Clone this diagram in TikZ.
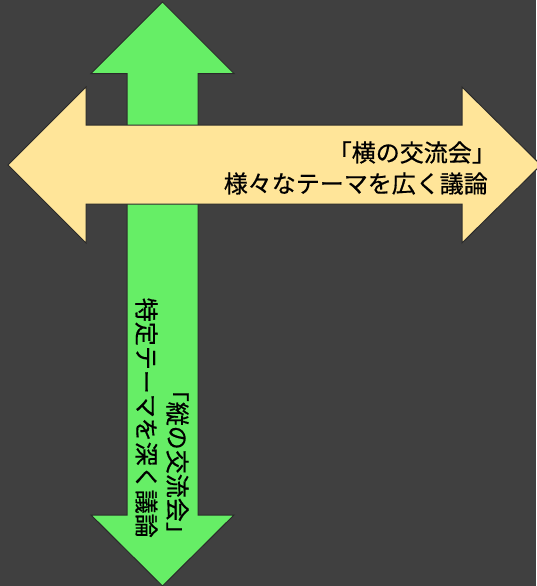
\documentclass[tikz,border=0pt]{standalone}
\usepackage{fontspec}
\newfontfamily\jpfont[FakeBold=0.6]{Noto Sans CJK JP}
\definecolor{bgc}{HTML}{404040}
\definecolor{greenc}{HTML}{66EE66}
\definecolor{yellowc}{HTML}{FFE599}
\definecolor{edgec}{HTML}{2A2A2A}
\tikzset{
  arrowshape/.style={draw=edgec, line width=1pt, line join=miter},
  labeltext/.style={font=\jpfont\fontsize{24}{31}\selectfont, text=black, align=right, inner sep=0pt}
}
\begin{document}
\begin{tikzpicture}[x=1pt,y=-1pt]
\fill[bgc] (0,0) rectangle (536,586);
\useasboundingbox (0,0) rectangle (536,586);
% green vertical double arrow
\coordinate (gt) at (162.5,2);
\coordinate (gb) at (162.5,586);
\fill[greenc, arrowshape] (gt) -- (234,73.5) -- (198,73.5) -- (198,515) -- (234,515) -- (gb) -- (91,515) -- (127,515) -- (127,73.5) -- (91,73.5) -- cycle;
% yellow horizontal double arrow
\coordinate (yl) at (8,165);
\coordinate (yr) at (541,165);
\fill[yellowc, arrowshape] (yl) -- (86,87) -- (86,125) -- (462,125) -- (462,87) -- (yr) -- (462,243) -- (462,204) -- (86,204) -- (86,243) -- cycle;
% texts
\node[labeltext, anchor=east] (htext) at (488,168) {「横の交流会」\kern-8pt\\様々なテーマを広く議論};
\node[labeltext, anchor=east, rotate=-90] (vtext) at (162,538) {「縦の交流会」\kern-8pt\\特定テーマを深く議論};
\end{tikzpicture}
\end{document}
